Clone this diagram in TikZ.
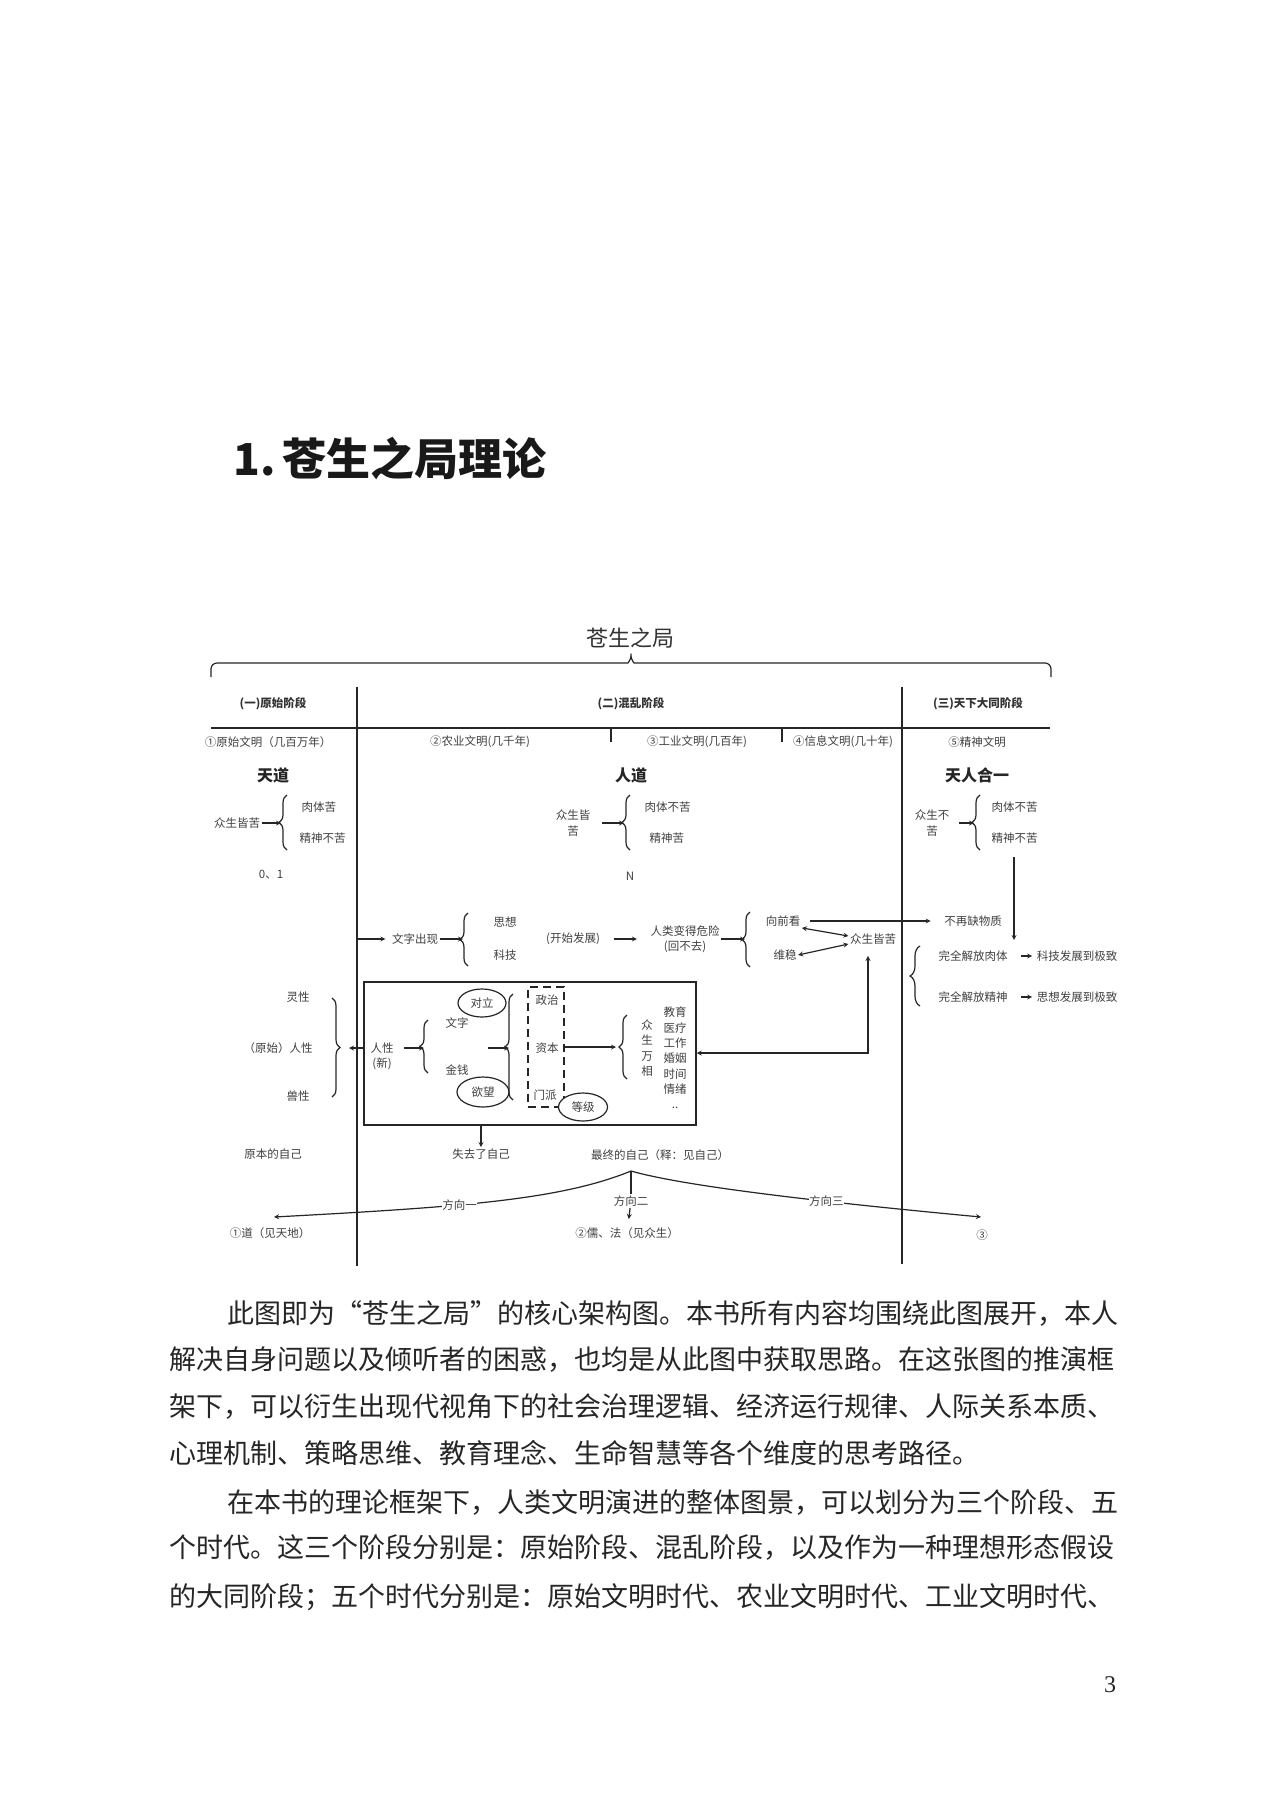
\documentclass[tikz,border=0pt]{standalone}
\usepackage{fontspec}
\setmainfont{Noto Sans CJK SC}
\newfontfamily\pagefont{Liberation Serif}
\usetikzlibrary{positioning,shapes.geometric,decorations.pathreplacing}
\XeTeXlinebreaklocale "zh"
\XeTeXlinebreakskip=0pt plus 3pt

\newcommand{\sm}{\fontsize{11.5}{15.3}\selectfont}

\tikzset{
  lbl/.style={font=\sm, text=black!75, inner sep=1pt},
  stage/.style={font=\sm\bfseries, text=black!80, inner sep=1pt},
  road/.style={font=\bfseries\fontsize{16}{19}\selectfont, text=black!85},
  brc/.style={decorate, decoration={brace, amplitude=8pt}, line width=1.2pt},
  ell/.style={ellipse, draw, line width=1.2pt, fill=white, minimum width=48, minimum height=28, inner sep=0pt, font=\sm, text=black!75},
  para/.style={anchor=west, inner sep=0pt, font=\fontsize{27}{30}\selectfont, text=black!85},
}

\begin{document}
\begin{tikzpicture}[x=1pt,y=-1pt,>=stealth,line width=1.2pt,draw=black!85]
    \fill[white] (0,0) rectangle (1288,1800);
    \useasboundingbox (0,0) rectangle (1288,1800);

    \node[anchor=west, font=\bfseries\fontsize{44}{48}\selectfont, text=black!90] (title) at (230,459) {1.\hspace{6pt}苍生之局理论};

    % frame
    \node[font=\fontsize{22}{26}\selectfont, text=black!80] (csz) at (630,638) {苍生之局};
    \coordinate (tip) at (631,650);
    \draw[rounded corners=6pt] (211,677) |- (622,663)
        .. controls (628,663) and (631,659) .. (tip)
        .. controls (631,659) and (634,663) .. (640,663) -| (1051,677);
    \draw[line width=1.7pt] (211,728) -- (1050,728);
    \draw[line width=1.7pt] (357,687) -- (357,1266);
    \draw[line width=1.7pt] (902,687) -- (902,1264);
    \draw (611,728) -- (611,742);
    \draw (782,728) -- (782,742);

    \node[stage] (st1) at (273,704) {(一)原始阶段};
    \node[stage] (st2) at (631,704) {(二)混乱阶段};
    \node[stage] (st3) at (978,704) {(三)天下大同阶段};

    \node[lbl] (e1) at (268,742) {①原始文明（几百万年）};
    \node[lbl] (e2) at (480,742) {②农业文明(几千年)};
    \node[lbl] (e3) at (697,742) {③工业文明(几百年)};
    \node[lbl] (e4) at (843,742) {④信息文明(几十年)};
    \node[lbl] (e5) at (977,742) {⑤精神文明};

    \node[road] (td) at (273,775) {天道};
    \node[road] (rd) at (631,775) {人道};
    \node[road] (trhy) at (977,775) {天人合一};

    % three states
    \node[lbl] (zs1) at (237,823) {众生皆苦};
    \coordinate (b1) at (281,823);
    \draw[brc] (287,850) -- (287,795);
    \draw[->] (zs1) -- (b1);
    \node[lbl, anchor=west] (rt1) at (300,807) {肉体苦};
    \node[lbl, anchor=west] (js1) at (298,838) {精神不苦};
    \node[lbl] (n01) at (271,875) {0、1};

    \node[lbl, align=center] (zs2) at (573,823) {众生皆\\苦};
    \coordinate (b2) at (624,823);
    \draw[brc] (630,850) -- (630,795);
    \draw[->, shorten <=10pt] (zs2) -- (b2);
    \node[lbl, anchor=west] (rt2) at (643,807) {肉体不苦};
    \node[lbl, anchor=west] (js2) at (648,838) {精神苦};
    \node[lbl] (nn) at (630,876) {N};

    \node[lbl, align=center] (zs3) at (932,823) {众生不\\苦};
    \coordinate (b3) at (974,823);
    \draw[brc] (980,850) -- (980,795);
    \draw[->, shorten <=8pt] (zs3) -- (b3);
    \node[lbl, anchor=west] (rt3) at (990,807) {肉体不苦};
    \node[lbl, anchor=west] (js3) at (990,838) {精神不苦};
    \coordinate (dn1) at (1014,857);
    \coordinate (dn2) at (1014,940);
    \draw[->] (dn1) -- (dn2);

    % development row
    \coordinate (v1) at (357,939);
    \node[lbl] (wz) at (415,939) {文字出现};
    \draw[->, shorten >=5pt] (v1) -- (wz);
    \coordinate (b4) at (463,939);
    \draw[brc] (468,966) -- (468,913);
    \draw[->] (wz) -- (b4);
    \node[lbl] (sx) at (505,922) {思想};
    \node[lbl] (kj) at (505,955) {科技};
    \node[lbl] (ksfz) at (573,939) {(开始发展)};
    \node[lbl, align=center] (rlwx) at (685,939) {人类变得危险\\(回不去)};
    \draw[->, shorten <=13pt, shorten >=12pt] (ksfz) -- (rlwx);
    \coordinate (b5) at (745,939);
    \draw[brc] (750,967) -- (750,912);
    \draw[->] (rlwx) -- (b5);
    \node[lbl] (xqk) at (783,921) {向前看};
    \node[lbl] (ww) at (785,955) {维稳};
    \node[lbl] (zs4) at (873,939) {众生皆苦};
    \draw[<->] (xqk.south east) -- ([yshift=3pt]zs4.west);
    \draw[<->] (ww.east) -- ([yshift=-5pt]zs4.west);
    \node[lbl] (bzq) at (973,921) {不再缺物质};
    \draw[->, shorten <=8pt, shorten >=12pt] (xqk) -- (bzq);

    \coordinate (b6) at (907,976);
    \draw[brc, decoration={amplitude=10pt}] (920,1006) -- (920,946);
    \node[lbl] (jfrt) at (973,956) {完全解放肉体};
    \node[lbl] (jfjs) at (973,997) {完全解放精神};
    \node[lbl] (kjfz) at (1077,956) {科技发展到极致};
    \node[lbl] (sxfz) at (1077,997) {思想发展到极致};
    \draw[->, shorten <=12pt, shorten >=3pt] (jfrt) -- (kjfz);
    \draw[->, shorten <=12pt, shorten >=3pt] (jfjs) -- (sxfz);

    % human nature box
    \node[draw, line width=1.5pt, minimum width=332, minimum height=143, inner sep=0pt] (box) at (530,1053.5) {};
    \node[lbl] (lx) at (298,997) {灵性};
    \node[lbl] (rx) at (278,1048) {（原始）人性};
    \node[lbl] (sx2) at (298,1096) {兽性};
    \draw[brc] (332,998) -- (332,1097);
    \coordinate (b7) at (342,1048);
    \draw[->, shorten >=7pt] (box.west |- b7) -- (b7);
    \node[lbl, align=center] (rxx) at (382,1056) {人性\\(新)};
    \coordinate (b8) at (424,1048);
    \draw[brc] (428,1073) -- (428,1020);
    \draw[->, shorten <=9pt] (rxx.east |- b8) -- (b8);
    \node[lbl] (wz2) at (457,1023) {文字};
    \node[lbl] (jq) at (457,1070) {金钱};
    \node[ell] (dl) at (482,1003) {对立};
    \node[ell, minimum width=52, minimum height=30] (yw) at (483,1092) {欲望};
    \coordinate (a1) at (488,1048);
    \coordinate (b9) at (509,1048);
    \draw[->] (a1) -- (b9);
    \draw[brc] (513,1100) -- (513,994);
    \node[draw, dashed, dash pattern=on 8pt off 5pt, line width=1.4pt, minimum width=36, minimum height=120, inner sep=0pt] (djk) at (546,1047) {};
    \node[lbl] (zz) at (547,1000) {政治};
    \node[lbl] (zb) at (547,1048) {资本};
    \node[lbl] (mp) at (545,1095) {门派};
    \node[ell, minimum width=49] (dj) at (583,1107) {等级};
    \coordinate (b10) at (621,1047);
    \draw[->, shorten >=5pt] (djk.east |- b10) -- (b10);
    \draw[brc] (627,1079) -- (627,1015);
    \node[lbl, align=center] (zswx) at (647,1048) {众\\生\\万\\相};
    \node[lbl, align=center] (lst) at (675,1058) {教育\\医疗\\工作\\婚姻\\时间\\情绪\\..};

    \coordinate (zsd) at (868,1053);
    \draw[<->, shorten >=10pt] (box.east |- zsd) -- (zsd) -- (zsd |- zs4.south);

    % selves and directions
    \node[lbl] (ybzj) at (273,1154) {原本的自己};
    \node[lbl] (sqzj) at (481,1154) {失去了自己};
    \node[lbl] (zzzj) at (660,1155) {最终的自己（释：见自己）};
    \draw[->] (box.south -| sqzj) -- (sqzj);

    \coordinate (peak) at (631,1171);
    \coordinate (end1) at (274,1217);
    \coordinate (end3) at (981,1217);
    \node[lbl] (dao) at (270,1233) {①道（见天地）};
    \node[lbl] (rf) at (627,1233) {②儒、法（见众生）};
    \node[lbl] (n3) at (982,1235) {③};
    \draw[->] (peak) .. controls (560,1200) and (460,1207) .. (end1)
        node[lbl, pos=0.6, fill=white, inner sep=0.5pt] (fx1) {方向一};
    \draw[->] (peak) .. controls (680,1185) and (800,1200) .. (end3)
        node[lbl, pos=0.68, fill=white, inner sep=0.5pt] (fx3) {方向三};
    \node[lbl] (fx2) at (631,1201) {方向二};
    \draw (peak) -- (fx2);
    \draw[->, shorten >=7pt] (fx2) -- (rf);

    % body text
    \node[para] (p1) at (227,1313) {\makebox[897pt][s]{此图即为“苍生之局”的核心架构图。本书所有内容均围绕此图展开，本人}};
    \node[para] (p2) at (169,1360) {\makebox[955pt][s]{解决自身问题以及倾听者的困惑，也均是从此图中获取思路。在这张图的推演框}};
    \node[para] (p3) at (169,1407) {\makebox[955pt][s]{架下，可以衍生出现代视角下的社会治理逻辑、经济运行规律、人际关系本质、}};
    \node[para] (p4) at (169,1453) {心理机制、策略思维、教育理念、生命智慧等各个维度的思考路径。};
    \node[para] (p5) at (227,1502) {\makebox[897pt][s]{在本书的理论框架下，人类文明演进的整体图景，可以划分为三个阶段、五}};
    \node[para] (p6) at (169,1548) {\makebox[955pt][s]{个时代。这三个阶段分别是：原始阶段、混乱阶段，以及作为一种理想形态假设}};
    \node[para] (p7) at (169,1597) {\makebox[955pt][s]{的大同阶段；五个时代分别是：原始文明时代、农业文明时代、工业文明时代、}};

    \node[font=\pagefont\fontsize{24}{24}\selectfont, text=black!85] (pg) at (1110,1685) {3};
\end{tikzpicture}
\end{document}
